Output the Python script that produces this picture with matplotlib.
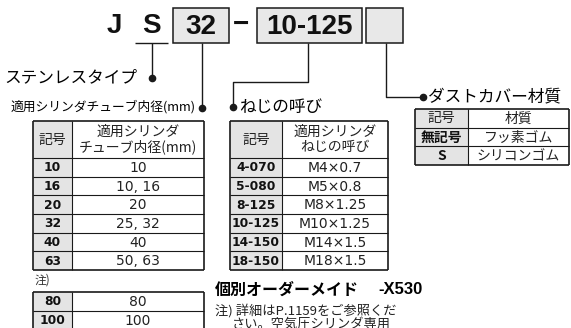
import matplotlib
matplotlib.use("Agg")
import matplotlib.pyplot as plt
from matplotlib.patches import Rectangle

# ---------------- data ----------------
part_code = ["J", "S", "32", "10-125", ""]
bore_header = ["記号", "適用シリンダ\nチューブ内径(mm)"]
bore_codes = ["10", "16", "20", "32", "40", "63"]
bore_sizes = ["10", "10, 16", "20", "25, 32", "40", "50, 63"]
bore_note_codes = ["80", "100"]
bore_note_sizes = ["80", "100"]
thread_header = ["記号", "適用シリンダ\nねじの呼び"]
thread_codes = ["4-070", "5-080", "8-125", "10-125", "14-150", "18-150"]
thread_sizes = ["M4×0.7", "M5×0.8", "M8×1.25", "M10×1.25", "M14×1.5", "M18×1.5"]
cover_header = ["記号", "材質"]
cover_codes = ["無記号", "S"]
cover_materials = ["フッ素ゴム", "シリコンゴム"]
label_stainless = "ステンレスタイプ"
label_bore = "適用シリンダチューブ内径(mm)"
label_thread = "ねじの呼び"
label_cover = "ダストカバー材質"
note_mark = "注)"
order_title = "個別オーダーメイド"
order_code = "-X530"
order_note1 = "注) 詳細はP.1159をご参照くだ"
order_note2 = "さい。空気圧シリンダ専用"

JP = ["Noto Sans CJK JP", "DejaVu Sans"]
LAT_B = ["Liberation Sans", "DejaVu Sans"]

fig = plt.figure(figsize=(5.71, 3.28), dpi=100)
ax = fig.add_axes([0, 0, 1, 1])
ax.set_xlim(0, 571)
ax.set_ylim(328, 0)
ax.axis("off")

LC = "#1a1a1a"
GRAY = "#e4e4e4"
BOXGRAY = "#e8e8e8"

# ---------------- part number ----------------
big = dict(fontsize=20, fontweight="bold", family=LAT_B, ha="center", va="center", color="#111")
ax.text(114, 26, part_code[0], **big)
ax.text(151, 26, part_code[1], **big)
boxes = [(173, 229, part_code[2]), (257, 362, part_code[3]), (366, 403, part_code[4])]
for x0, x1, t in boxes:
    ax.add_patch(Rectangle((x0, 8), x1 - x0, 35, facecolor=BOXGRAY, edgecolor=LC, lw=1.1))
    if t:
        ax.text((x0 + x1) / 2, 26.5, t, **big)
ax.text(240.5, 25, "−", **big)

def line(xs, ys, lw=1.0):
    ax.plot(xs, ys, color=LC, lw=lw, solid_capstyle="butt")

def dot(x, y):
    ax.plot([x], [y], "o", color=LC, ms=4.5)

# S underline & stainless
line([135, 168], [43, 43])
line([152, 152], [43, 78])
dot(152, 78)
ax.text(4, 78, label_stainless, fontsize=12, family=JP, ha="left", va="center")

# bore
line([202, 202], [43, 108])
dot(202, 108)
ax.text(196, 107, label_bore, fontsize=9.2, family=JP, ha="right", va="center")

# thread
line([308, 308, 233, 233], [43, 82, 82, 107])
dot(233, 107)
ax.text(239, 107, label_thread, fontsize=12, family=JP, ha="left", va="center")

# cover
line([386, 386, 423], [43, 97, 97])
dot(423, 97)
ax.text(428, 97, label_cover, fontsize=12, family=JP, ha="left", va="center")

# ---------------- tables ----------------
def draw_table(x0, xs, x1, top, header, header_h, codes, vals, row_h,
               code_kw, val_kw, bottom_border=True):
    y = top
    rows = []
    if header is not None:
        rows.append((header[0], header[1], header_h, True))
    for c, v in zip(codes, vals):
        rows.append((c, v, row_h, False))
    total = sum(r[2] for r in rows)
    ax.add_patch(Rectangle((x0, top), xs - x0, total, facecolor=GRAY, edgecolor="none"))
    ax.add_patch(Rectangle((xs, top), x1 - xs, total, facecolor="white", edgecolor="none"))
    for c, v, h, is_head in rows:
        cy = y + h / 2
        if is_head:
            ax.text((x0 + xs) / 2, cy, c, fontsize=10, family=JP, ha="center", va="center", color="#222")
            ax.text((xs + x1) / 2, cy, v, fontsize=10, family=JP, ha="center", va="center",
                    color="#222", linespacing=1.05)
        else:
            ax.text((x0 + xs) / 2, cy + 0.5, c, ha="center", va="center", **code_kw)
            ax.text((xs + x1) / 2, cy + 0.5, v, ha="center", va="center", **val_kw)
        y += h
        if y < top + total - 0.1:
            line([x0, x1], [y, y], lw=0.8)
    line([xs, xs], [top, top + total], lw=0.8)
    line([x0, x1], [top, top], lw=1.2)
    line([x0, x0], [top, top + total], lw=1.2)
    line([x1, x1], [top, top + total], lw=1.2)
    if bottom_border:
        line([x0, x1], [top + total, top + total], lw=1.2)

code_num = dict(fontsize=8.8, fontweight="bold", family=["DejaVu Sans"], color="#111")
val_num = dict(fontsize=10, family=["DejaVu Sans"], color="#222")
draw_table(33, 72, 204, 121, bore_header, 37, bore_codes, bore_sizes, 18.7, code_num, val_num)
draw_table(33, 72, 204, 292, None, 0, bore_note_codes, bore_note_sizes, 18.7, code_num, val_num)
draw_table(230, 282, 388, 121, thread_header, 37, thread_codes, thread_sizes, 18.7, code_num, val_num)

code_jp = dict(fontsize=10, fontweight="bold", family=JP, color="#111")
val_jp = dict(fontsize=10, family=JP, color="#222")
draw_table(415, 468, 569, 109, cover_header, 18.7, cover_codes, cover_materials, 18.7, code_jp, val_jp)

ax.text(35, 280, note_mark, fontsize=8.5, family=JP, ha="left", va="center", color="#333")

# ---------------- made to order ----------------
ax.text(215, 290, order_title, fontsize=11.5, fontweight="bold", family=JP, ha="left", va="center")
ax.text(378, 290, order_code, fontsize=12, fontweight="bold", family=LAT_B, ha="left", va="center")
ax.text(215, 311, order_note1, fontsize=9.5, family=JP, ha="left", va="center", color="#222")
ax.text(232, 324, order_note2, fontsize=9.5, family=JP, ha="left", va="center", color="#222")

fig.savefig("out.png", dpi=100)
